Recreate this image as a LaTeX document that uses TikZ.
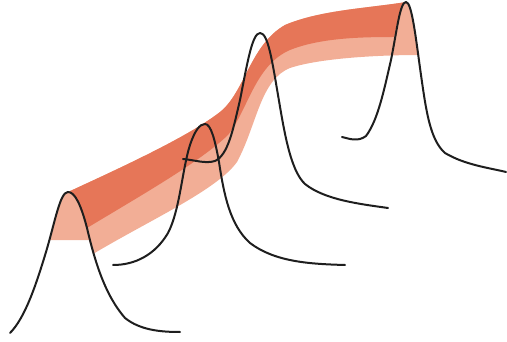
\documentclass[tikz,border=0pt]{standalone}
\usepackage{tikz}

\tikzset{every picture/.style={line width=0.75pt}}
\definecolor{ribbondark}{RGB}{230,118,88}
\definecolor{ribbonlight}{RGB}{242,174,150}
\tikzset{peakline/.style={color={rgb,255:red,30;green,30;blue,30},line width=1.5pt,line cap=round,line join=round}}

\begin{document}
\begin{tikzpicture}[x=0.75pt,y=0.75pt,yscale=-1,xscale=1]
		\useasboundingbox (0,0) rectangle (507,342);
		
		%Shape: Ribbon, front face
		\fill [ribbonlight] (50,240) .. controls (56,215) and (60,192) .. (68,192) .. controls (120,168) and (188,137) .. (220,112) .. controls (245,92) and (250,45) .. (285,25) .. controls (320,10) and (370,8) .. (406,2) .. controls (411,2) and (415,30) .. (419,55) .. controls (380,55) and (320,58) .. (290,68) .. controls (260,80) and (257,125) .. (237,162) .. controls (217,190) and (150,220) .. (93,254) -- (89,240) -- cycle ;
		%Shape: Ribbon, top face
		\fill [ribbondark] (68,192) .. controls (120,168) and (188,137) .. (220,112) .. controls (245,92) and (250,45) .. (285,25) .. controls (320,10) and (370,8) .. (406,2) .. controls (400,2) and (397,25) .. (394,37) .. controls (360,37) and (320,38) .. (290,50) .. controls (255,65) and (248,110) .. (228,135) .. controls (200,162) and (140,196) .. (87,228) .. controls (81,205) and (75,192) .. (68,192) -- cycle ;
		
		%Curve Lines: first peak
		\draw [peakline] (10,333) .. controls (25,318) and (36,285) .. (46,252) .. controls (55,222) and (60,192) .. (68,192) .. controls (75,192) and (81,205) .. (87,228) .. controls (95,262) and (105,295) .. (125,318) .. controls (140,330) and (160,332) .. (180,332) ;
		%Curve Lines: second peak
		\draw [peakline] (113,265) .. controls (135,265) and (155,255) .. (168,233) .. controls (180,210) and (182,170) .. (190,145) .. controls (195,130) and (200,124) .. (205,124) .. controls (211,124) and (215,140) .. (219,162) .. controls (224,195) and (230,225) .. (250,243) .. controls (275,262) and (310,264) .. (345,265) ;
		%Curve Lines: third peak
		\draw [peakline] (183,159) .. controls (195,160) and (205,164) .. (215,161) .. controls (228,155) and (233,130) .. (240,100) .. controls (247,65) and (252,33) .. (260,33) .. controls (268,33) and (272,60) .. (278,95) .. controls (284,130) and (290,170) .. (305,184) .. controls (325,200) and (360,204) .. (388,208) ;
		%Curve Lines: fourth peak
		\draw [peakline] (342,137) .. controls (350,139) and (358,142) .. (366,136) .. controls (378,120) and (384,90) .. (391,60) .. controls (397,30) and (400,2) .. (406,2) .. controls (412,2) and (416,40) .. (421,75) .. controls (426,110) and (430,140) .. (445,153) .. controls (465,165) and (490,168) .. (506,172) ;
		
	\end{tikzpicture}
\end{document}
